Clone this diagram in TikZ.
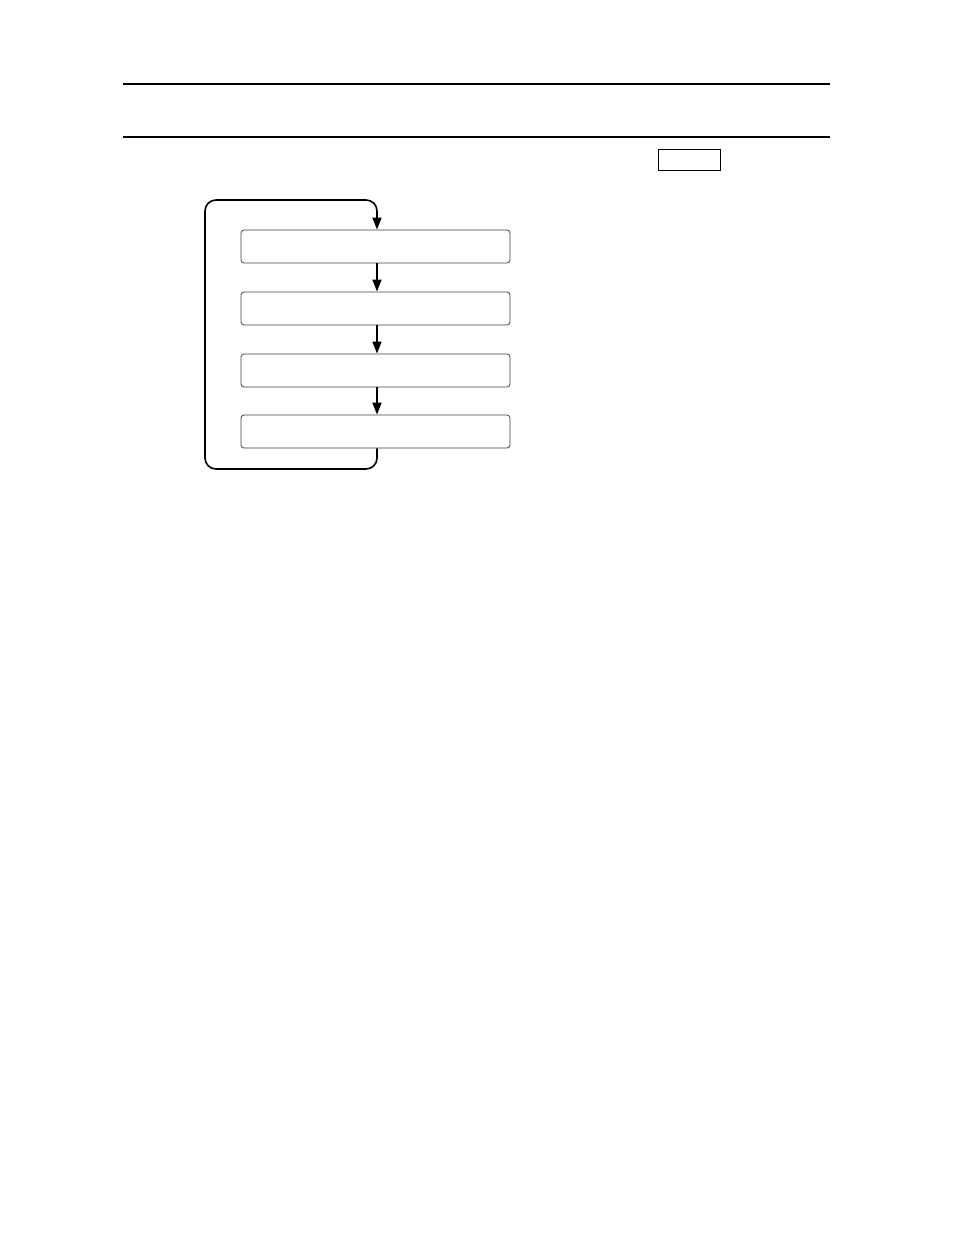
\documentclass[tikz,border=0pt]{standalone}
\usetikzlibrary{arrows.meta}
\begin{document}
\begin{tikzpicture}[x=1pt,y=-1pt,
  stepbox/.style={draw=black!75,line width=0.8pt,rounded corners=3pt,minimum width=269pt,minimum height=33pt,inner sep=0pt},
  flow/.style={line width=1.6pt,-{Triangle[length=12pt,width=9pt]}},
  rule/.style={line width=2pt}]
\useasboundingbox (0,0) rectangle (954,1235);
\coordinate (r1a) at (123,84); \coordinate (r1b) at (830,84);
\coordinate (r2a) at (123,137); \coordinate (r2b) at (830,137);
\draw[rule] (r1a) -- (r1b);
\draw[rule] (r2a) -- (r2b);
\node[draw,line width=0.8pt,minimum width=62pt,minimum height=21pt,inner sep=0pt] (tag) at (689,159.5) {};
\node[stepbox] (b1) at (375.5,246.5) {};
\node[stepbox] (b2) at (375.5,308.5) {};
\node[stepbox] (b3) at (375.5,370.5) {};
\node[stepbox] (b4) at (375.5,431.5) {};
\draw[flow] (b1.south -| 377,0) -- (b2.north -| 377,0);
\draw[flow] (b2.south -| 377,0) -- (b3.north -| 377,0);
\draw[flow] (b3.south -| 377,0) -- (b4.north -| 377,0);
\draw[flow,rounded corners=11pt] (b4.south -| 377,0) -- (377,469) -- (205,469) -- (205,200) -- (377,200) -- (b1.north -| 377,0);
\end{tikzpicture}
\end{document}
